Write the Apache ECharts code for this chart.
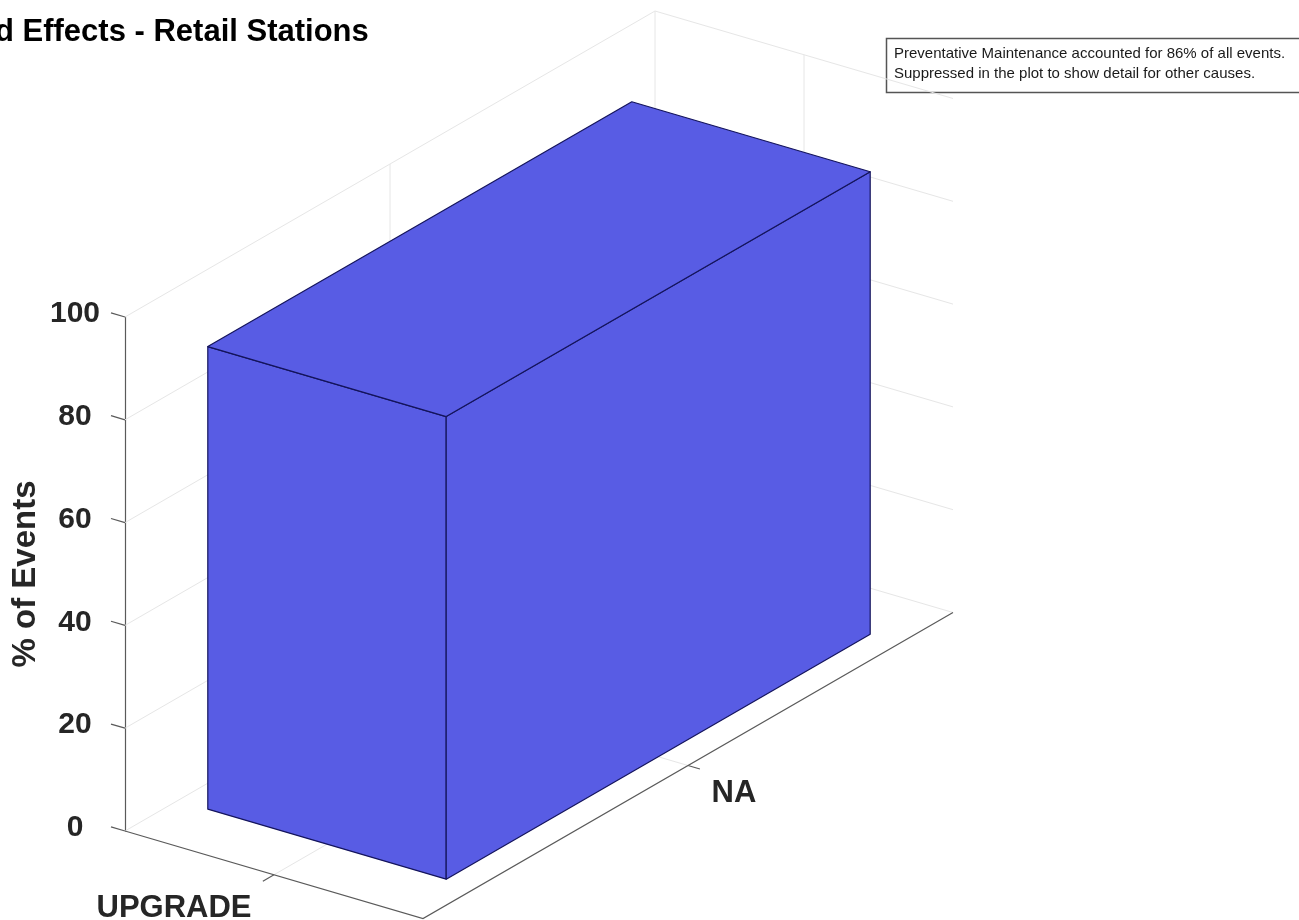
<!DOCTYPE html>
<html>
<head>
<meta charset="utf-8">
<style>html,body{margin:0;padding:0;background:#fff}#c{width:1299px;height:920px}</style>
<script src="https://cdn.jsdelivr.net/npm/echarts@6/dist/echarts.min.js"></script>
</head>
<body>
<div id="c"></div>
<script>
// ---- data ----
var xCategories = ['UPGRADE'];
var yCategories = ['NA'];
var barValues = [90];
var zTicks = [0, 20, 40, 60, 80, 100];
var titleText = 'd Effects - Retail Stations';
var zAxisName = '% of Events';
var noteLines = [
  'Preventative Maintenance accounted for 86% of all events.',
  'Suppressed in the plot to show detail for other causes.'
];

// ---- oblique projection of the 3D box (in units of the 2D axes) ----
// u runs across xCategories, v across yCategories (one unit per category),
// w is the value axis.
var UX = 298 / 8.28, UY = -87.5 / 5.14;
var VX = 530 / 8.28, VY = 306 / 5.14;
function project(api, u, v, w) {
  return api.coord([u * UX + v * VX, w + u * UY + v * VY]);
}
var GRID_COLOR = '#e6e6e6', AXIS_COLOR = '#5a5a5a', TEXT_COLOR = '#262626';
var BAR_COLOR = '#585ce4', EDGE_COLOR = '#14145c';
var FONT = '"Liberation Sans", Arial, sans-serif';
var BAR_HALF = 0.4;

function line(api, pts, color, width) {
  return {
    type: 'polyline',
    silent: true,
    shape: { points: pts.map(function (p) { return project(api, p[0], p[1], p[2]); }) },
    style: { stroke: color, lineWidth: width || 1, fill: null }
  };
}
function face(api, pts) {
  return {
    type: 'polygon',
    silent: true,
    shape: { points: pts.map(function (p) { return project(api, p[0], p[1], p[2]); }) },
    style: { fill: BAR_COLOR, stroke: EDGE_COLOR, lineWidth: 1.2, lineJoin: 'round' }
  };
}

var option = {
  animation: false,
  backgroundColor: '#ffffff',
  title: {
    text: titleText,
    left: -5,
    top: 17,
    padding: 0,
    textStyle: { fontFamily: FONT, fontSize: 31, fontWeight: 'bold', color: '#000000' }
  },
  grid: { left: 125, top: 317, width: 828, height: 514, containLabel: false, outerBoundsMode: 'none' },
  xAxis: { type: 'value', min: 0, max: 100, show: false },
  yAxis: {
    type: 'value', min: 0, max: 100, interval: 20,
    name: zAxisName,
    nameLocation: 'middle',
    nameGap: 83,
    nameRotate: 90,
    nameMoveOverlap: false,
    nameTextStyle: { fontFamily: FONT, fontSize: 33, fontWeight: 'bold', color: TEXT_COLOR },
    axisLine: { show: true, lineStyle: { color: AXIS_COLOR, width: 1.2 } },
    axisTick: { show: false },
    splitLine: { show: false },
    axisLabel: {
      margin: 50, align: 'center',
      formatter: '{a|{value}}',
      rich: {
        a: {
          padding: [0, 0, 6, 0],
          fontFamily: FONT, fontSize: 30, fontWeight: 'bold', color: TEXT_COLOR
        }
      }
    }
  },
  graphic: [
    {
      type: 'rect', silent: true,
      shape: { x: 886.5, y: 38.5, width: 420, height: 54 },
      style: { fill: null, stroke: '#555555', lineWidth: 1.5 }
    },
    {
      type: 'text', silent: true, x: 894, y: 44,
      style: { text: noteLines.join('\n'), fontFamily: FONT, fontSize: 15, lineHeight: 20, fill: '#1a1a1a' }
    }
  ],
  series: [
    {
      // walls: one horizontal gridline per value tick, plus the oblique tick on the axis
      type: 'custom', coordinateSystem: 'cartesian2d', clip: false, silent: true, z: 1,
      data: zTicks.map(function (t) { return [0, t]; }),
      encode: { x: 0, y: 1 },
      renderItem: function (params, api) {
        var w = api.value(1);
        return {
          type: 'group',
          children: [
            line(api, [[0, 0, w], [0, 1, w], [1, 1, w]], GRID_COLOR),
            line(api, [[-0.047, 0, w], [0, 0, w]], AXIS_COLOR, 1.2)
          ]
        };
      }
    },
    {
      // floor, wall verticals and category ticks / labels
      type: 'custom', coordinateSystem: 'cartesian2d', clip: false, silent: true, z: 2,
      data: [[0, 0]],
      encode: { x: 0, y: 1 },
      renderItem: function (params, api) {
        var topW = zTicks[zTicks.length - 1];
        var xp = project(api, 0.5, 0, 0), yp = project(api, 1, 0.5, 0);
        function label(text, p, dx, dy) {
          return {
            type: 'text', silent: true,
            style: {
              text: text, x: p[0] + dx, y: p[1] + dy, align: 'center', verticalAlign: 'middle',
              fontFamily: FONT, fontSize: 31, fontWeight: 'bold', fill: TEXT_COLOR
            }
          };
        }
        return {
          type: 'group',
          children: [
            line(api, [[0, 0.5, 0], [0, 0.5, topW]], GRID_COLOR),
            line(api, [[0.5, 1, 0], [0.5, 1, topW]], GRID_COLOR),
            line(api, [[0, 1, 0], [0, 1, topW]], GRID_COLOR),
            line(api, [[0.5, 0, 0], [0.5, 1, 0]], GRID_COLOR),
            line(api, [[0, 0.5, 0], [1, 0.5, 0]], GRID_COLOR),
            line(api, [[0, 0, 0], [1, 0, 0], [1, 1, 0]], AXIS_COLOR, 1.2),
            line(api, [[0.5, -0.021, 0], [0.5, 0, 0]], AXIS_COLOR, 1.2),
            line(api, [[1.04, 0.5, 0], [1, 0.5, 0]], AXIS_COLOR, 1.2),
            label(xCategories[0], xp, -100, 34),
            label(yCategories[0], yp, 46, 28)
          ]
        };
      }
    },
    {
      // the 3D bar
      type: 'custom', coordinateSystem: 'cartesian2d', clip: false, silent: true, z: 3,
      data: barValues.map(function (v, i) { return [i, v]; }),
      encode: { x: 0, y: 1 },
      renderItem: function (params, api) {
        var i = api.value(0), h = api.value(1);
        var u0 = i + 0.5 - BAR_HALF, u1 = i + 0.5 + BAR_HALF;
        var v0 = 0.5 - BAR_HALF, v1 = 0.5 + BAR_HALF;
        return {
          type: 'group',
          children: [
            face(api, [[u0, v0, 0], [u1, v0, 0], [u1, v0, h], [u0, v0, h]]),
            face(api, [[u1, v0, 0], [u1, v1, 0], [u1, v1, h], [u1, v0, h]]),
            face(api, [[u0, v0, h], [u1, v0, h], [u1, v1, h], [u0, v1, h]])
          ]
        };
      }
    }
  ]
};
echarts.init(document.getElementById('c')).setOption(option);
</script>
</body>
</html>
